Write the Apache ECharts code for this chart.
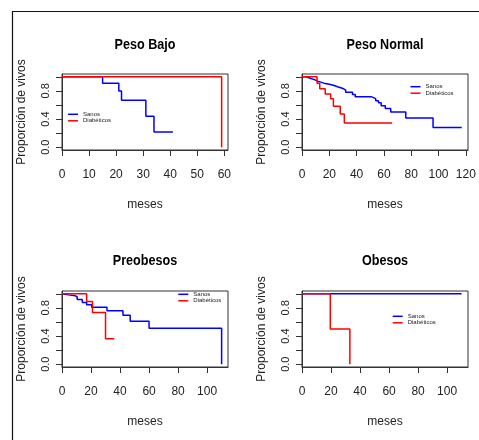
<!DOCTYPE html>
<html>
<head>
<meta charset="utf-8">
<script src="https://cdn.jsdelivr.net/npm/echarts@6/dist/echarts.min.js"></script>
<style>
html,body{margin:0;padding:0;background:#fff;}
#chart{width:479px;height:440px;}
</style>
</head>
<body>
<div id="chart"></div>
<script>
// ---- Data ----
const panelTitles = ['Peso Bajo', 'Peso Normal', 'Preobesos', 'Obesos'];
const seriesNames = ['Sanos', 'Diabéticos'];
const xAxisTitle = 'meses';
const yAxisTitle = 'Proporción de vivos';

// [months, survival proportion] step points
const bajoSanos = [[0,1],[15,0.91],[21,0.8],[22,0.667],[31,0.44],[34,0.215],[41,0.215]];
const bajoDiab  = [[0,1],[59,0],[59,0]];

const normalSanos = [[0,1],[3,0.98],[6,0.96],[9,0.935],[12,0.91],[16,0.895],[20,0.88],[23,0.86],[26,0.835],[30,0.81],[32,0.78],[37,0.75],[39,0.715],[51,0.69],[54,0.66],[56,0.63],[58,0.59],[61,0.55],[65,0.5],[76,0.415],[96,0.28],[117,0.28]];
const normalDiab  = [[0,1],[11,0.91],[13,0.83],[17,0.755],[21,0.69],[23,0.58],[28,0.47],[31,0.345],[66,0.345]];

const preoSanos = [[0,1],[1,0.985],[4.5,0.973],[9,0.955],[10.5,0.92],[14,0.875],[17,0.845],[20.5,0.81],[31,0.76],[42,0.695],[47,0.61],[60,0.51],[110,0],[110,0]];
const preoDiab  = [[0,1],[17,0.89],[21,0.735],[30,0.36],[36,0.36]];

const obeSanos = [[0,1],[110,1]];
const obeDiab  = [[0,1],[19.5,0.5],[33,0],[33,0]];

const xTicks = [
  [0,10,20,30,40,50,60],
  [0,20,40,60,80,100,120],
  [0,20,40,60,80,100],
  [0,20,40,60,80,100]
];
const xMax = [61.36, 121.6, 114.4, 114.4];
const yTicks = [0,0.2,0.4,0.6,0.8,1.0];
const yLabels = [0,0.4,0.8];

const panelData = [
  [bajoSanos, bajoDiab],
  [normalSanos, normalDiab],
  [preoSanos, preoDiab],
  [obeSanos, obeDiab]
];

// ---- Layout ----
const grids = [
  {left:62, top:74, width:166, height:76},
  {left:302, top:74, width:166, height:76},
  {left:62, top:291, width:166, height:76},
  {left:302, top:291, width:166, height:76}
];
const legendPos = [
  {left:68, top:111.3},
  {left:410.5, top:83.7},
  {left:178.3, top:291.3},
  {left:392.7, top:313.3}
];
const titleY = [45, 45, 261, 261];

const NARROW = '"Liberation Sans Narrow", "Liberation Sans", Arial, sans-serif';
const SANS = '"Liberation Sans", Arial, sans-serif';
const colors = ['#0000ff', '#ff0000'];

const option = {
  animation: false,
  backgroundColor: '#ffffff',
  grid: grids.map(g => Object.assign({show:true, borderColor:'#333', borderWidth:1, backgroundColor:'transparent'}, g)),
  xAxis: grids.map((g,i) => ({
    type:'value', gridIndex:i, min:0, max:xMax[i],
    name: xAxisTitle, nameLocation:'middle', nameGap:49,
    nameTextStyle:{fontFamily:NARROW, fontSize:12, color:'#222'},
    axisLine:{show:true, onZero:false, lineStyle:{color:'#333', width:1}},
    axisTick:{show:true, length:6, customValues:xTicks[i], lineStyle:{color:'#333'}},
    axisLabel:{show:true, margin:19, customValues:xTicks[i], fontFamily:NARROW, fontSize:12, color:'#222'},
    splitLine:{show:false}
  })),
  yAxis: grids.map((g,i) => ({
    type:'value', gridIndex:i, min:-0.04, max:1.04,
    name: yAxisTitle, nameLocation:'middle', nameGap:34, nameRotate:90,
    nameTextStyle:{fontFamily:SANS, fontSize:12, color:'#222'},
    axisLine:{show:true, onZero:false, lineStyle:{color:'#333', width:1}},
    axisTick:{show:true, length:6, customValues:yTicks, lineStyle:{color:'#333'}},
    axisLabel:{show:true, rotate:90, margin:11, customValues:yLabels, fontFamily:SANS, fontSize:11, color:'#222',
      formatter: v => Number(v).toFixed(1)},
    splitLine:{show:false}
  })),
  legend: legendPos.map(p => ({
    left:p.left, top:p.top, orient:'vertical', padding:0, itemGap:0.5,
    itemWidth:10, itemHeight:1.5, icon:'rect', itemTextGap:4,
    data: seriesNames, selectedMode:false,
    textStyle:{fontFamily:NARROW, fontSize:6, lineHeight:6, color:'#222'}
  })),
  series: [],
  graphic: [
    {type:'polyline', shape:{points:[[479,11.5],[12.5,11.5],[12.5,440]]}, style:{stroke:'#111', lineWidth:1.2, fill:null}, silent:true}
  ].concat(panelTitles.map((t,i) => ({
    type:'text', x: grids[i].left + grids[i].width/2, y: titleY[i], scaleX:0.84, silent:true,
    style:{text:t, textAlign:'center', textVerticalAlign:'middle', verticalAlign:'middle',
      font:'bold 15px ' + NARROW, fill:'#000'}
  })))
};

panelData.forEach((pair, i) => {
  pair.forEach((d, k) => {
    option.series.push({
      name: seriesNames[k], type:'line', step:'end', xAxisIndex:i, yAxisIndex:i,
      data:d, symbol:'none', showSymbol:false, color: colors[k],
      lineStyle:{color:colors[k], width:1.5}, clip:true
    });
  });
});

const chart = echarts.init(document.getElementById('chart'), null, {renderer:'canvas'});
chart.setOption(option);
</script>
</body>
</html>
